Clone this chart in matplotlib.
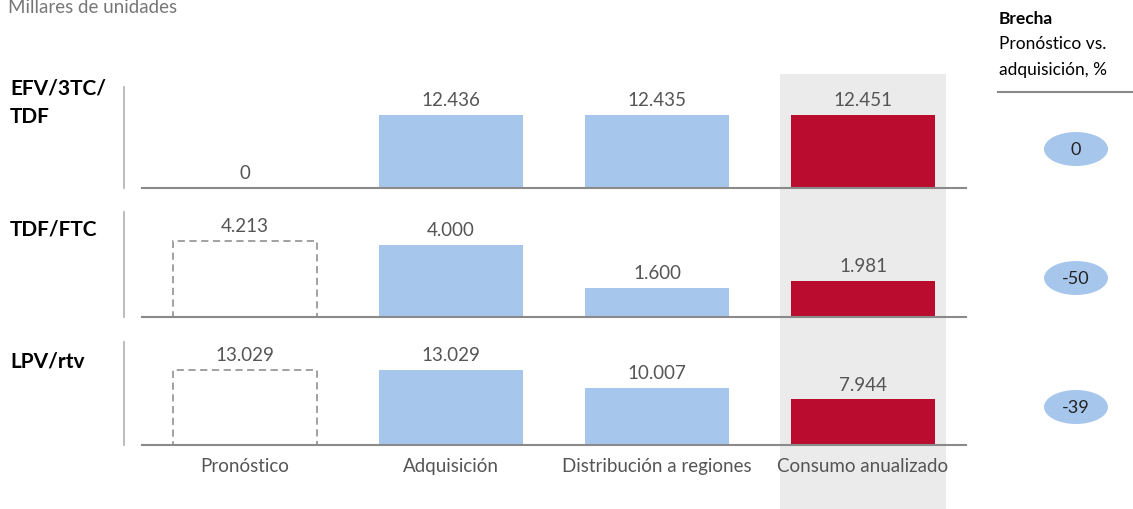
import matplotlib
matplotlib.use("Agg")
import matplotlib.pyplot as plt
from matplotlib.patches import Rectangle, Ellipse
import numpy as np

plt.rcParams['font.family'] = ['Lato', 'DejaVu Sans']

# datos
categorias = ['Pronóstico', 'Adquisición', 'Distribución a regiones', 'Consumo anualizado']
productos = ['EFV/3TC/\nTDF', 'TDF/FTC', 'LPV/rtv']
valores_efv = [0, 12436, 12435, 12451]
valores_tdf = [4213, 4000, 1600, 1981]
valores_lpv = [13029, 13029, 10007, 7944]
brecha = [0, -50, -39]

azul = '#a7c6ec'
rojo = '#ba0c2f'
gris_txt = '#555555'

W, H = 1133, 510
fig = plt.figure(figsize=(W / 100, H / 100), dpi=100)

# columna gris de consumo anualizado
fig.patches.append(Rectangle((780 / W, 0), 166 / W, 1 - 75 / H,
                             transform=fig.transFigure, facecolor='#ebebeb',
                             edgecolor='none', zorder=-10))

# posiciones de los paneles en pixeles (arriba, abajo)
paneles = [(88, 189), (213, 318), (343, 446)]
series = [valores_efv, valores_tdf, valores_lpv]
ylab = [103, 230, 362]

x = np.arange(len(categorias))
colores = ['none', azul, azul, rojo]

for k, (vals, (top, bot)) in enumerate(zip(series, paneles)):
    ax = fig.add_axes([142 / W, 1 - bot / H, (966 - 142) / W, (bot - top) / H])
    ax.set_facecolor('none')
    ax.set_xlim(-0.5, 3.5)
    ax.set_ylim(0, max(vals) * 1.38)
    for i, v in enumerate(vals):
        if i == 0:
            if v > 0:
                ax.bar(x[i], v, width=0.70, facecolor='none', edgecolor='#9a9a9a',
                       linestyle=(0, (4, 2.5)), linewidth=1.3, zorder=2)
        else:
            ax.bar(x[i], v, width=0.70, color=colores[i], zorder=2)
        ax.annotate(f'{v:,}'.replace(',', '.'), (x[i], v), xytext=(0, 5),
                    textcoords='offset points', ha='center', va='bottom',
                    fontsize=13.5, color=gris_txt)
    for s in ['top', 'right']:
        ax.spines[s].set_visible(False)
    ax.spines['bottom'].set_color('#8a8a8a')
    ax.spines['bottom'].set_linewidth(1.5)
    ax.spines['left'].set_position(('outward', 13))
    ax.spines['left'].set_color('#b0b0b0')
    ax.spines['left'].set_linewidth(1.2)
    ax.set_yticks([])
    ax.set_xticks([])
    if k == 2:
        ax.set_xticks(x)
        ax.set_xticklabels(categorias, fontsize=13.5, color=gris_txt)
        ax.tick_params(axis='x', length=0, pad=9)

    # etiqueta de producto
    fig.text(10 / W, 1 - ylab[k] / H, productos[k], fontsize=15, fontweight='bold',
             ha='left', va='center', linespacing=1.5)

# encabezados
fig.text(8 / W, 1 - 8 / H, 'Millares de unidades', fontsize=13.5, color='#777777',
         ha='left', va='center')
fig.text(999 / W, 1 - 19 / H, 'Brecha', fontsize=12.5, fontweight='bold',
         ha='left', va='center')
fig.text(999 / W, 1 - 44 / H, 'Pronóstico vs.', fontsize=12.5, ha='left', va='center')
fig.text(999 / W, 1 - 70 / H, 'adquisición, %', fontsize=12.5, ha='left', va='center')
fig.add_artist(plt.Line2D([998 / W, 1], [1 - 93 / H, 1 - 93 / H],
                          transform=fig.transFigure, color='#8a8a8a', lw=1.5))

# burbujas de brecha
ycent = [150, 279, 408]
for b, yc in zip(brecha, ycent):
    fig.patches.append(Ellipse((1076 / W, 1 - yc / H), 64 / W, 34 / H,
                               transform=fig.transFigure, facecolor=azul,
                               edgecolor='none'))
    fig.text(1076 / W, 1 - yc / H, str(b), fontsize=13, ha='center', va='center',
             color='#222222')

fig.savefig('out.png', dpi=100)
